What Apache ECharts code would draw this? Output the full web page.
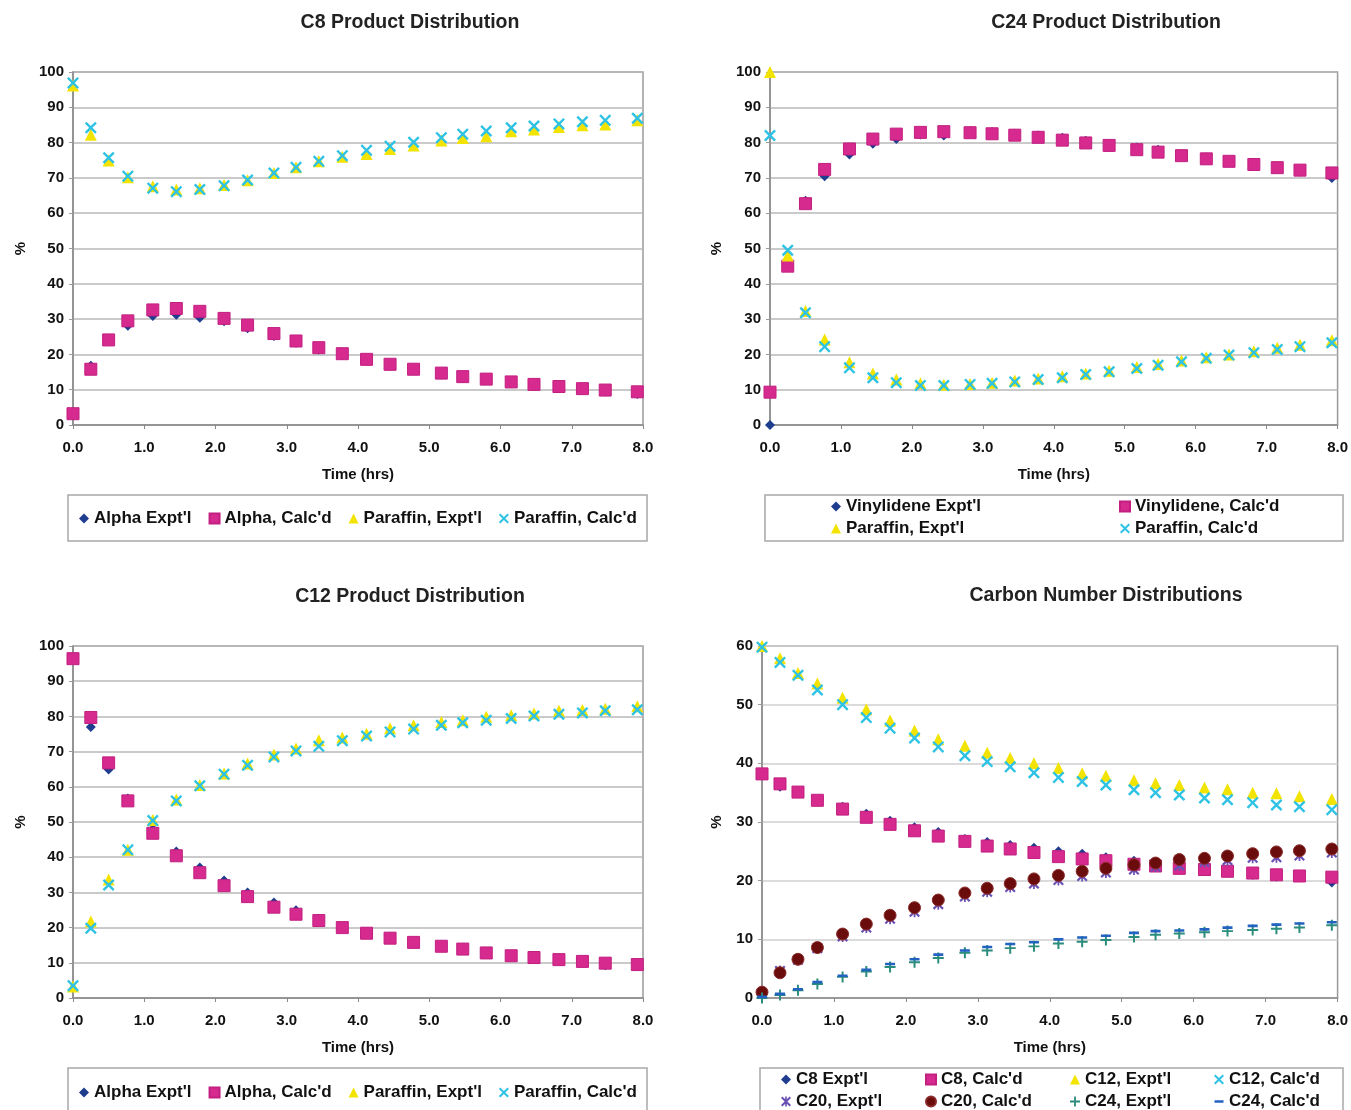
<!DOCTYPE html>
<html><head><meta charset="utf-8">
<script src="https://cdn.jsdelivr.net/npm/echarts@6/dist/echarts.min.js"></script>
<style>html,body{margin:0;padding:0;background:#fff}#c{width:1351px;height:1110px}</style>
</head><body><div id="c"></div>
<script>
// ---- data ----
const time = [0, 0.25, 0.5, 0.77, 1.12, 1.45, 1.78, 2.12, 2.45, 2.82, 3.13, 3.45, 3.78, 4.12, 4.45, 4.78, 5.17, 5.47, 5.8, 6.15, 6.47, 6.82, 7.15, 7.47, 7.92];
const xTickLabels = ['0.0','1.0','2.0','3.0','4.0','5.0','6.0','7.0','8.0'];

// C8 Product Distribution
const c8AlphaExpt = [3.0, 16.8, 23.8, 28.1, 30.9, 31.2, 30.4, 29.4, 27.4, 25.2, 23.3, 21.4, 19.8, 18.2, 16.8, 15.5, 14.3, 13.4, 13.0, 11.8, 11.2, 10.6, 9.9, 9.5, 8.8];
const c8AlphaCalc = [3.2, 15.8, 24.1, 29.5, 32.6, 33.0, 32.2, 30.2, 28.3, 25.9, 23.8, 21.9, 20.2, 18.6, 17.2, 15.8, 14.7, 13.7, 13.0, 12.2, 11.5, 10.9, 10.3, 9.9, 9.4];
const c8ParExpt = [96.2, 82.2, 74.9, 70.2, 67.6, 66.7, 67.1, 68.0, 69.3, 71.4, 73.0, 74.7, 76.0, 76.8, 78.2, 79.2, 80.6, 81.3, 81.8, 83.2, 83.7, 84.4, 84.9, 85.1, 86.3];
const c8ParCalc = [96.9, 84.2, 75.7, 70.5, 67.1, 66.1, 66.7, 67.8, 69.4, 71.4, 73.0, 74.7, 76.3, 77.8, 79.0, 80.1, 81.4, 82.4, 83.3, 84.2, 84.7, 85.3, 85.9, 86.3, 86.9];

// C24 Product Distribution
const c24VinExpt = [0, 46.4, 63.5, 70.5, 76.6, 79.7, 81.0, 82.3, 82.0, 83.3, 83.0, 82.5, 82.0, 81.4, 80.5, 79.6, 78.6, 78.0, 76.5, 75.8, 74.9, 74.2, 72.5, 71.8, 70.0];
const c24VinCalc = [9.3, 45.0, 62.7, 72.4, 78.2, 81.0, 82.4, 82.9, 83.1, 82.8, 82.5, 82.1, 81.5, 80.7, 79.9, 79.2, 78.0, 77.3, 76.3, 75.4, 74.7, 73.8, 72.9, 72.2, 71.4];
const c24ParExpt = [100, 48.0, 32.3, 24.2, 17.8, 14.6, 12.9, 11.8, 11.4, 11.6, 12.0, 12.6, 13.2, 13.8, 14.6, 15.4, 16.4, 17.3, 18.3, 19.2, 20.0, 20.9, 21.9, 22.7, 24.0];
const c24ParCalc = [82.0, 49.5, 31.8, 22.2, 16.2, 13.4, 12.0, 11.2, 11.2, 11.5, 11.8, 12.2, 12.9, 13.4, 14.3, 15.1, 16.0, 16.9, 17.9, 18.9, 19.8, 20.5, 21.4, 22.2, 23.3];

// C12 Product Distribution
const c12AlphaExpt = [96.5, 77.0, 64.9, 56.7, 48.0, 41.6, 37.1, 33.4, 30.0, 27.1, 24.9, 22.5, 20.2, 18.7, 17.3, 16.0, 14.9, 14.2, 13.0, 12.2, 11.7, 11.0, 10.5, 9.3, 9.0];
const c12AlphaCalc = [96.4, 79.7, 66.8, 56.0, 46.8, 40.4, 35.6, 31.9, 28.8, 25.8, 23.8, 22.0, 20.0, 18.4, 17.0, 15.8, 14.7, 13.9, 12.8, 12.0, 11.5, 10.9, 10.4, 9.9, 9.5];
const c12ParExpt = [3.3, 21.7, 33.7, 42.1, 50.6, 56.4, 60.5, 63.8, 66.6, 69.2, 70.9, 73.2, 74.0, 75.1, 76.6, 77.5, 78.4, 78.9, 79.9, 80.3, 80.8, 81.6, 81.8, 82.2, 82.9];
const c12ParCalc = [3.5, 19.8, 32.1, 42.1, 50.4, 56.0, 60.3, 63.6, 66.1, 68.5, 70.2, 71.5, 73.1, 74.4, 75.6, 76.4, 77.5, 78.2, 78.9, 79.4, 80.1, 80.6, 81.0, 81.6, 81.9];

// Carbon Number Distributions
const cnC8Expt = [38.0, 36.0, 35.0, 33.6, 32.6, 31.4, 30.2, 29.1, 28.3, 27.1, 26.6, 26.1, 25.6, 25.0, 24.6, 24.0, 23.4, 22.6, 22.2, 21.9, 21.6, 21.0, 20.7, 20.7, 19.7];
const cnC8Calc = [38.2, 36.5, 35.1, 33.7, 32.2, 30.8, 29.6, 28.5, 27.6, 26.7, 25.9, 25.4, 24.8, 24.1, 23.7, 23.4, 22.8, 22.5, 22.1, 21.9, 21.6, 21.3, 21.0, 20.8, 20.6];
const cnC12Expt = [60.0, 57.9, 55.4, 53.6, 51.2, 49.2, 47.3, 45.6, 44.1, 43.0, 41.8, 40.9, 40.0, 39.2, 38.3, 37.9, 37.1, 36.6, 36.3, 35.9, 35.6, 35.0, 34.9, 34.4, 33.9];
const cnC12Calc = [59.8, 57.2, 55.0, 52.5, 50.0, 47.8, 46.0, 44.3, 42.8, 41.3, 40.3, 39.4, 38.4, 37.6, 36.9, 36.3, 35.5, 35.0, 34.6, 34.1, 33.8, 33.3, 32.9, 32.6, 32.1];
const cnC20Expt = [0.8, 4.6, 6.5, 8.5, 10.5, 12.0, 13.5, 14.7, 16.0, 17.3, 18.1, 18.9, 19.5, 20.1, 20.8, 21.4, 21.9, 22.4, 22.6, 23.2, 23.5, 23.9, 24.0, 24.3, 24.8];
const cnC20Calc = [1.0, 4.3, 6.6, 8.6, 10.9, 12.6, 14.1, 15.4, 16.7, 17.9, 18.7, 19.5, 20.3, 20.9, 21.6, 22.1, 22.7, 23.0, 23.6, 23.8, 24.2, 24.6, 24.9, 25.1, 25.4];
const cnC24Expt = [0, 0.5, 1.3, 2.4, 3.6, 4.5, 5.3, 6.1, 6.8, 7.7, 8.1, 8.5, 8.8, 9.3, 9.6, 9.9, 10.4, 10.8, 11.0, 11.2, 11.4, 11.6, 11.8, 12.0, 12.4];
const cnC24Calc = [0.2, 0.7, 1.5, 2.7, 3.8, 4.8, 5.8, 6.6, 7.4, 8.1, 8.7, 9.2, 9.5, 10.0, 10.3, 10.6, 11.1, 11.4, 11.5, 11.7, 12.0, 12.3, 12.5, 12.7, 12.9];

// ---- styles ----
const FONT = 'Liberation Sans, Arial, Helvetica, sans-serif';
const TXT = '#111';
const C_DIAM = '#1f3d8e', C_SQ = '#d62a8f', C_TRI = '#f3e300', C_X = '#2ec2e4';
const C_AST = '#6a50b4', C_CIR = '#6b0c0c', C_PLUS = '#2a8c7c', C_DASH = '#2262c0';
const SYM_XP = 'M0,1.4L1.4,0L5,3.6L8.6,0L10,1.4L6.4,5L10,8.6L8.6,10L5,6.4L1.4,10L0,8.6L3.6,5Z';
const SYM_X = 'path://' + SYM_XP;
const SYM_AST = 'path://' + SYM_XP + 'M4.2,0L5.8,0L5.8,10L4.2,10Z';
const SYM_PLUS = 'path://M4.1,0L5.9,0L5.9,4.1L10,4.1L10,5.9L5.9,5.9L5.9,10L4.1,10L4.1,5.9L0,5.9L0,4.1L4.1,4.1Z';
const SYM_DASH = 'path://M5,0L5,0ZM5,10L5,10ZM0.5,3.7L9.5,3.7L9.5,6.3L0.5,6.3Z';

function sc(name, vals, gi, symbol, size, color, border) {
  const itemStyle = {color, opacity: 1};
  if (border) { itemStyle.borderColor = border; itemStyle.borderWidth = 1; }
  return {
    type: 'scatter', name, xAxisIndex: gi, yAxisIndex: gi,
    data: time.map((t, i) => [t, vals[i]]),
    symbol, symbolSize: size, itemStyle,
    emphasis: {disabled: true}, animation: false
  };
}

const grids = [
  {left: 73, top: 72, width: 570, height: 353},
  {left: 770, top: 72, width: 569, height: 353},
  {left: 73, top: 646, width: 570, height: 352},
  {left: 762, top: 646, width: 577, height: 352}
].map(g => Object.assign(g, {show: true, borderColor: '#9a9a9a', borderWidth: 1.5, containLabel: false}));

function xAx(gi) {
  return {
    type: 'value', gridIndex: gi, min: 0, max: 8, interval: 1,
    name: 'Time (hrs)', nameLocation: 'middle', nameGap: 42,
    nameTextStyle: {fontSize: 15, fontWeight: 'bold', color: TXT, fontFamily: FONT},
    axisLine: {show: true, onZero: false, lineStyle: {color: '#8a8a8a', width: 1.5}},
    axisTick: {show: true, length: 4, lineStyle: {color: '#8a8a8a'}},
    axisLabel: {fontSize: 15, fontWeight: 'bold', color: TXT, fontFamily: FONT, margin: 15,
      formatter: v => xTickLabels[Math.round(v)]},
    splitLine: {show: false}
  };
}
function yAx(gi, max, gap, gridColor) {
  return {
    type: 'value', gridIndex: gi, min: 0, max, interval: 10,
    name: '%', nameLocation: 'middle', nameGap: gap, nameRotate: 90,
    nameTextStyle: {fontSize: 15, fontWeight: 'bold', color: TXT, fontFamily: FONT},
    axisLine: {show: true, onZero: false, lineStyle: {color: '#8a8a8a', width: 1.5}},
    axisTick: {show: true, length: 4, lineStyle: {color: '#9a9a9a'}},
    axisLabel: {fontSize: 15, fontWeight: 'bold', color: TXT, fontFamily: FONT, margin: 9},
    splitLine: {show: true, lineStyle: {color: gridColor, width: 1.5}}
  };
}

const titleStyle = {fontSize: 19.5, fontWeight: 'bold', color: '#222', fontFamily: FONT};
const titles = [
  {text: 'C8 Product Distribution', left: 410, top: 13},
  {text: 'C24 Product Distribution', left: 1106, top: 13},
  {text: 'C12 Product Distribution', left: 410, top: 587},
  {text: 'Carbon Number Distributions', left: 1106, top: 586}
].map(t => Object.assign(t, {textAlign: 'center', padding: 0, textStyle: titleStyle}));

const legCommon = {padding: 0, itemWidth: 10, itemHeight: 10, selectedMode: false,
  textStyle: {fontSize: 17, fontWeight: 'bold', color: TXT, fontFamily: FONT}};
const L = o => Object.assign({}, legCommon, o);
const legends = [
  L({left: 79, top: 510, itemGap: 17, data: ["Alpha Expt'l", "Alpha, Calc'd", "Paraffin, Expt'l", "Paraffin, Calc'd"]}),
  L({left: 831, top: 498, orient: 'vertical', itemGap: 5, data: ["Vinylidene Expt'l", "Paraffin, Expt'l"]}),
  L({left: 1119, top: 498, orient: 'vertical', itemGap: 5, data: ["Vinylidene, Calc'd", "Paraffin, Calc'd"]}),
  L({left: 79, top: 1084, itemGap: 17, data: ["Alpha Expt'l", "Alpha, Calc'd", "Paraffin, Expt'l", "Paraffin, Calc'd"]}),
  L({left: 781, top: 1071, orient: 'vertical', itemGap: 5, data: ["C8 Expt'l", "C20, Expt'l"]}),
  L({left: 925, top: 1071, orient: 'vertical', itemGap: 5, data: ["C8, Calc'd", "C20, Calc'd"]}),
  L({left: 1070, top: 1071, orient: 'vertical', itemGap: 5, data: ["C12, Expt'l", "C24, Expt'l"]}),
  L({left: 1214, top: 1071, orient: 'vertical', itemGap: 5, data: ["C12, Calc'd", "C24, Calc'd"]})
];

const boxStyle = {fill: 'none', stroke: '#a8a8a8', lineWidth: 1.5};
const graphics = [
  {type: 'rect', shape: {x: 68, y: 495, width: 579, height: 46}, style: boxStyle, silent: true},
  {type: 'rect', shape: {x: 765, y: 495, width: 578, height: 46}, style: boxStyle, silent: true},
  {type: 'rect', shape: {x: 68, y: 1068, width: 579, height: 60}, style: boxStyle, silent: true},
  {type: 'rect', shape: {x: 760, y: 1068, width: 583, height: 60}, style: boxStyle, silent: true}
];

const series = [
  sc("Alpha Expt'l", c8AlphaExpt, 0, 'diamond', 10, C_DIAM),
  sc("Alpha, Calc'd", c8AlphaCalc, 0, 'rect', 12, C_SQ, '#c21f80'),
  sc("Paraffin, Expt'l", c8ParExpt, 0, 'triangle', 12, C_TRI),
  sc("Paraffin, Calc'd", c8ParCalc, 0, SYM_X, 12, C_X),

  sc("Vinylidene Expt'l", c24VinExpt, 1, 'diamond', 10, C_DIAM),
  sc("Vinylidene, Calc'd", c24VinCalc, 1, 'rect', 12, C_SQ, '#c21f80'),
  sc("Paraffin, Expt'l", c24ParExpt, 1, 'triangle', 12, C_TRI),
  sc("Paraffin, Calc'd", c24ParCalc, 1, SYM_X, 12, C_X),

  sc("Alpha Expt'l", c12AlphaExpt, 2, 'diamond', 10, C_DIAM),
  sc("Alpha, Calc'd", c12AlphaCalc, 2, 'rect', 12, C_SQ, '#c21f80'),
  sc("Paraffin, Expt'l", c12ParExpt, 2, 'triangle', 12, C_TRI),
  sc("Paraffin, Calc'd", c12ParCalc, 2, SYM_X, 12, C_X),

  sc("C8 Expt'l", cnC8Expt, 3, 'diamond', 10, C_DIAM),
  sc("C8, Calc'd", cnC8Calc, 3, 'rect', 12, C_SQ, '#c21f80'),
  sc("C12, Expt'l", cnC12Expt, 3, 'triangle', 12, C_TRI),
  sc("C12, Calc'd", cnC12Calc, 3, SYM_X, 12, C_X),
  sc("C20, Expt'l", cnC20Expt, 3, SYM_AST, 11, C_AST),
  sc("C20, Calc'd", cnC20Calc, 3, 'circle', 12, C_CIR, '#8a2a2a'),
  sc("C24, Expt'l", cnC24Expt, 3, SYM_PLUS, 11, C_PLUS),
  sc("C24, Calc'd", cnC24Calc, 3, SYM_DASH, 10, C_DASH)
];

const chart = echarts.init(document.getElementById('c'), null, {renderer: 'canvas'});
chart.setOption({
  backgroundColor: '#fff',
  animation: false,
  textStyle: {fontFamily: FONT},
  title: titles,
  legend: legends,
  grid: grids,
  xAxis: [xAx(0), xAx(1), xAx(2), xAx(3)],
  yAxis: [yAx(0, 100, 45, '#b8b8b8'), yAx(1, 100, 46, '#b8b8b8'), yAx(2, 100, 45, '#b8b8b8'), yAx(3, 60, 38, '#cfcfcf')],
  graphic: graphics,
  series
});
</script>
</body></html>
